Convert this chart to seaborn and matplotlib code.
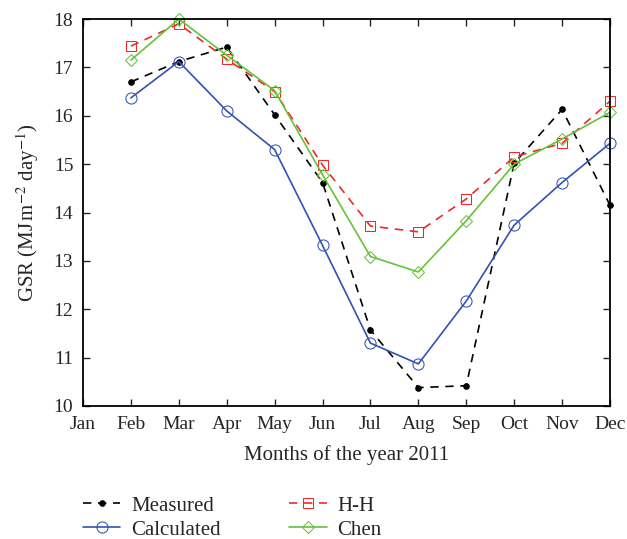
import numpy as np
import pandas as pd
import matplotlib
matplotlib.use('Agg')
import matplotlib.pyplot as plt
import seaborn as sns

months = ['Jan', 'Feb', 'Mar', 'Apr', 'May', 'Jun', 'Jul', 'Aug', 'Sep', 'Oct', 'Nov', 'Dec']
data_months = months[1:]
measured = [16.70, 17.12, 17.42, 16.02, 14.62, 11.57, 10.38, 10.42, 15.02, 16.13, 14.15]
calculated = [16.37, 17.12, 16.10, 15.30, 13.32, 11.30, 10.87, 12.17, 13.74, 14.62, 15.43]
hh = [17.44, 17.90, 17.17, 16.50, 14.98, 13.72, 13.60, 14.28, 15.15, 15.43, 16.30]
chen = [17.15, 18.00, 17.25, 16.52, 14.78, 13.09, 12.77, 13.83, 15.00, 15.52, 16.07]

sns.set_style('white')
plt.rcParams['font.family'] = ['Liberation Serif', 'DejaVu Serif']
plt.rcParams['mathtext.fontset'] = 'stix'

x = [months.index(m) for m in data_months]
fig = plt.figure(figsize=(6.27, 5.39), dpi=100)
ax = fig.add_axes([83/627, 1 - 406/539, (610 - 83)/627, (406 - 19)/539])

series = [
    ('Measured', measured, 'black', (5, 4), dict(marker='o', markersize=4, markerfacecolor='black', markeredgecolor='black')),
    ('Calculated', calculated, '#3352b0', '', dict(marker='o', markersize=8, markerfacecolor='none', markeredgecolor='#3352b0')),
    ('H-H', hh, '#f02828', (5, 4), dict(marker='s', markersize=7, markerfacecolor='none', markeredgecolor='#f02828')),
    ('Chen', chen, '#66c23a', '', dict(marker='D', markersize=6.5, markerfacecolor='none', markeredgecolor='#66c23a')),
]
for name, vals, col, dash, mk in series:
    df = pd.DataFrame({'month': x, 'gsr': vals})
    sns.lineplot(data=df, x='month', y='gsr', ax=ax, color=col, linewidth=1.2,
                 label=name, dashes=False, clip_on=False, **mk)
    if dash:
        ax.lines[-1].set_dashes(dash)

ax.set_xlim(0, 11)
ax.set_ylim(10, 18)
ax.set_xticks(range(12))
ax.set_xticklabels(months)
ax.set_yticks(range(10, 19))
ax.tick_params(direction='in', length=5, labelsize=14, width=1, top=True, right=True,
               bottom=True, left=True, labeltop=False, labelright=False, pad=7)
for s in ax.spines.values():
    s.set_linewidth(1.3)
    s.set_color('black')
ax.set_xlabel('Months of the year 2011', fontsize=15, labelpad=9)
ax.set_ylabel(r'GSR (MJ$\,$m$^{-2}$ day$^{-1}$)', fontsize=15, labelpad=9)

h, l = ax.get_legend_handles_labels()
ax.legend(h, l, loc='upper left', bbox_to_anchor=(0.0, -0.233), ncol=2, frameon=False,
          fontsize=15, handlelength=1.8, columnspacing=3.3, labelspacing=0.2,
          handletextpad=0.5, borderaxespad=0, borderpad=0)

fig.savefig('out.png', dpi=100)
